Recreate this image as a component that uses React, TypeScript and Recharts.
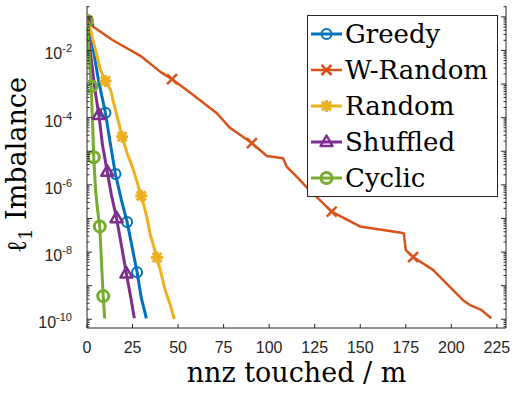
import React from "react";
import { LineChart, Line, XAxis, YAxis, Legend, Label } from "recharts";

const AXIS = "#262626";
const SERIF = "'DejaVu Serif', 'Liberation Serif', serif";
const SANS = "'Liberation Sans', Arial, sans-serif";

// x = nnz touched / m, y = l1 imbalance
const greedyX = [0, 3.0, 6.3, 10.1, 12.9, 15.6, 18.9, 22.0, 24.9, 27.5, 29.8, 32.6];
const greedyY = [7.6e-2, 1.45e-2, 1.3e-3, 1.4e-4, 1.55e-5, 2.1e-6, 3.5e-7, 7.9e-8, 1.3e-8, 2.5e-9, 4.3e-10, 1.07e-10];
const greedyMarks = [0, 3, 5, 7, 9];

const wrandomX = [0, 3.6, 14, 29.3, 40.3, 46.7, 56.7, 71.3, 78.6, 90.5, 98.7, 107.6, 109.6, 115.1, 119.7, 134.3, 149.8, 171.7, 173.9, 175, 179, 189.9, 206.4, 210, 216.4, 221.9];
const wrandomY = [7.6e-2, 5.0e-2, 2.04e-2, 6.9e-3, 2.3e-3, 1.4e-3, 5.5e-4, 1.35e-4, 4.9e-5, 1.75e-5, 7.2e-6, 6.2e-6, 3.5e-6, 1.75e-6, 9.5e-7, 1.6e-7, 5.8e-8, 3.8e-8, 3.6e-8, 1.15e-8, 7.1e-9, 2.95e-9, 3.7e-10, 2.7e-10, 1.9e-10, 1.07e-10];
const wrandomMarks = [0, 5, 9, 15, 20];

const randomX = [0, 1.9, 7.4, 10.1, 12.9, 15.6, 19.3, 22.0, 25.5, 29.8, 32.6, 34.8, 38.4, 40.2, 42.9, 45.7, 47.9];
const randomY = [7.6e-2, 4.1e-2, 2.6e-3, 1.23e-3, 6.6e-4, 1.7e-4, 2.7e-5, 8.9e-6, 2.75e-6, 4.7e-7, 1.26e-7, 3.2e-8, 6.9e-9, 2.95e-9, 7.4e-10, 2.7e-10, 1.02e-10];
const randomMarks = [0, 3, 6, 9, 12];

const shuffledX = [0, 1.9, 4.7, 6.5, 8.5, 11.1, 13.4, 16.2, 18.9, 21.6, 23.8, 26.0];
const shuffledY = [7.6e-2, 8.1e-3, 5.1e-4, 1.2e-4, 1.55e-5, 2.45e-6, 5.0e-7, 1.02e-7, 1.6e-8, 2.3e-9, 5.2e-10, 1.07e-10];
const shuffledMarks = [0, 3, 5, 7, 9];

const cyclicX = [0, 2.3, 3.0, 3.7, 4.7, 5.8, 7.0, 7.9, 8.9, 9.7];
const cyclicY = [7.6e-2, 8.5e-4, 8.5e-5, 6.6e-6, 7.1e-7, 1.78e-7, 5.8e-8, 5.8e-9, 4.9e-10, 1.07e-10];
const cyclicMarks = [0, 1, 3, 6, 8];

const X_TICKS = [0, 25, 50, 75, 100, 125, 150, 175, 200, 225];
const X_DOMAIN = [0, 230];
const Y_DOMAIN = [5.5e-11, 0.21];

// decades plus 2..9 minor ticks, like a matlab log axis
const Y_TICKS: number[] = [];
for (let e = -11; e <= -1; e++) {
  for (let m = 1; m <= 9; m++) {
    const v = m * Math.pow(10, e);
    if (v >= Y_DOMAIN[0] && v <= Y_DOMAIN[1]) Y_TICKS.push(v);
  }
}

type Kind = "circle" | "x" | "star" | "triangle" | "hex";

const SERIES = [
  { name: "Greedy", color: "#0072BD", kind: "circle" as Kind, xs: greedyX, ys: greedyY, marks: greedyMarks, width: 3 },
  { name: "W-Random", color: "#D95319", kind: "x" as Kind, xs: wrandomX, ys: wrandomY, marks: wrandomMarks, width: 2.5 },
  { name: "Random", color: "#EDB120", kind: "star" as Kind, xs: randomX, ys: randomY, marks: randomMarks, width: 3 },
  { name: "Shuffled", color: "#7E2F8E", kind: "triangle" as Kind, xs: shuffledX, ys: shuffledY, marks: shuffledMarks, width: 3 },
  { name: "Cyclic", color: "#77AC30", kind: "hex" as Kind, xs: cyclicX, ys: cyclicY, marks: cyclicMarks, width: 3 },
];

function Marker({ kind, cx, cy, color }: { kind: Kind; cx: number; cy: number; color: string }) {
  if (kind === "circle") {
    return <circle cx={cx} cy={cy} r={5} fill="none" stroke={color} strokeWidth={2} />;
  }
  if (kind === "hex") {
    return <circle cx={cx} cy={cy} r={5.5} fill="none" stroke={color} strokeWidth={3} />;
  }
  if (kind === "x") {
    const s = 5;
    return (
      <path
        d={`M${cx - s},${cy - s}L${cx + s},${cy + s}M${cx - s},${cy + s}L${cx + s},${cy - s}`}
        stroke={color}
        strokeWidth={2.5}
      />
    );
  }
  if (kind === "star") {
    const s = 6;
    const d = 4.5;
    return (
      <path
        d={`M${cx - s},${cy}L${cx + s},${cy}M${cx},${cy - s}L${cx},${cy + s}M${cx - d},${cy - d}L${cx + d},${cy + d}M${cx - d},${cy + d}L${cx + d},${cy - d}`}
        stroke={color}
        strokeWidth={3}
      />
    );
  }
  // triangle
  return (
    <polygon
      points={`${cx},${cy - 6.5} ${cx - 6},${cy + 4} ${cx + 6},${cy + 4}`}
      fill="none"
      stroke={color}
      strokeWidth={2.5}
      strokeLinejoin="round"
    />
  );
}

const isMajor = (v: number) => {
  const e = Math.log10(v);
  return Math.abs(e - Math.round(e)) < 1e-6;
};

const BottomTick = ({ x, y, payload }: any) => (
  <g>
    <line x1={x} x2={x} y1={y} y2={y - 4} stroke={AXIS} />
    <text x={x} y={y + 25} textAnchor="middle" fontFamily={SANS} fontSize={16} fill={AXIS}>
      {payload.value}
    </text>
  </g>
);

const TopTick = ({ x, y }: any) => <line x1={x} x2={x} y1={y} y2={y + 4} stroke={AXIS} />;

const LeftTick = ({ x, y, payload }: any) => {
  const major = isMajor(payload.value);
  const e = Math.round(Math.log10(payload.value));
  return (
    <g>
      <line x1={x} x2={x + (major ? 5 : 2.5)} y1={y} y2={y} stroke={AXIS} />
      {major && e % 2 === 0 && (
        <text x={x - 15} y={y + 9} textAnchor="end" fontFamily={SANS} fontSize={16} fill={AXIS}>
          <tspan>10</tspan>
          <tspan dy={-7} fontSize={11}>
            {e}
          </tspan>
        </text>
      )}
    </g>
  );
};

const RightTick = ({ x, y, payload }: any) => {
  const major = isMajor(payload.value);
  return <line x1={x} x2={x - (major ? 5 : 2.5)} y1={y} y2={y} stroke={AXIS} />;
};

const XTitle = ({ viewBox }: any) => (
  <text
    x={viewBox.x + viewBox.width / 2}
    y={viewBox.y + 54}
    textAnchor="middle"
    fontFamily={SERIF}
    fontSize={27}
    fill="#000"
  >
    nnz touched / m
  </text>
);

const YTitle = ({ viewBox }: any) => {
  const x = viewBox.x + 26;
  const y = viewBox.y + viewBox.height / 2 - 2;
  return (
    <text
      x={x}
      y={y}
      transform={`rotate(-90, ${x}, ${y})`}
      textAnchor="middle"
      fontFamily={SERIF}
      fontSize={27}
      fill="#000"
    >
      <tspan>ℓ</tspan>
      <tspan dy={6} fontSize={18}>1</tspan>
      <tspan dy={-6}> Imbalance</tspan>
    </text>
  );
};

// legend keeps the plotting order (recharts would sort it by name)
const LegendBox = () => (
  <div
    style={{
      border: `1px solid ${AXIS}`,
      background: "#fff",
      width: 191,
      height: 182,
      boxSizing: "border-box",
    }}
  >
    {SERIES.map((s) => (
      <div key={s.name} style={{ display: "flex", alignItems: "center", height: 36 }}>
        <svg width={36} height={20} style={{ marginLeft: 1, flex: "none" }}>
          <line x1={2} x2={33} y1={10} y2={10} stroke={s.color} strokeWidth={s.width} />
          <Marker kind={s.kind} cx={17.5} cy={10} color={s.color} />
        </svg>
        <span style={{ fontFamily: SERIF, fontSize: 26, color: "#000", lineHeight: "36px", whiteSpace: "nowrap" }}>
          {s.name}
        </span>
      </div>
    ))}
  </div>
);

export default function App() {
  return (
    <div style={{ position: "absolute", left: 0, top: 0, background: "#fff" }}>
      <LineChart width={523} height={395} margin={{ top: 6, right: 0, bottom: 0, left: 0 }}>
        <XAxis
          xAxisId="bottom"
          type="number"
          dataKey="x"
          domain={X_DOMAIN}
          allowDataOverflow
          ticks={X_TICKS}
          interval={0}
          height={67}
          tickLine={false}
          tickSize={0}
          tickMargin={0}
          tick={BottomTick}
          axisLine={{ stroke: AXIS }}
        >
          <Label content={XTitle} />
        </XAxis>
        <XAxis
          xAxisId="top"
          orientation="top"
          type="number"
          dataKey="x"
          domain={X_DOMAIN}
          allowDataOverflow
          ticks={X_TICKS}
          interval={0}
          height={0}
          tickLine={false}
          tickSize={0}
          tickMargin={0}
          tick={TopTick}
          axisLine={{ stroke: AXIS }}
        />
        <YAxis
          yAxisId="left"
          scale="log"
          type="number"
          domain={Y_DOMAIN}
          allowDataOverflow
          ticks={Y_TICKS}
          interval={0}
          width={87}
          tickLine={false}
          tickSize={0}
          tickMargin={0}
          tick={LeftTick}
          axisLine={{ stroke: AXIS }}
        >
          <Label content={YTitle} />
        </YAxis>
        <YAxis
          yAxisId="right"
          orientation="right"
          scale="log"
          type="number"
          domain={Y_DOMAIN}
          allowDataOverflow
          ticks={Y_TICKS}
          interval={0}
          width={17}
          tickLine={false}
          tickSize={0}
          tickMargin={0}
          tick={RightTick}
          axisLine={{ stroke: AXIS }}
        />
        <Legend
          layout="vertical"
          align="center"
          verticalAlign="middle"
          content={LegendBox}
          wrapperStyle={{ left: 307, top: 15, width: 191, height: 182 }}
        />
        {SERIES.map((s) => (
          <Line
            key={s.name}
            name={s.name}
            xAxisId="bottom"
            yAxisId="left"
            data={s.xs.map((x, i) => ({ x, y: s.ys[i] }))}
            dataKey="y"
            type="linear"
            stroke={s.color}
            strokeWidth={s.width}
            strokeLinejoin="round"
            isAnimationActive={false}
            activeDot={false}
            dot={(p: any) =>
              s.marks.includes(p.index) ? (
                <Marker key={`${s.name}-${p.index}`} kind={s.kind} cx={p.cx} cy={p.cy} color={s.color} />
              ) : (
                <g key={`${s.name}-${p.index}`} />
              )
            }
          />
        ))}
      </LineChart>
    </div>
  );
}
